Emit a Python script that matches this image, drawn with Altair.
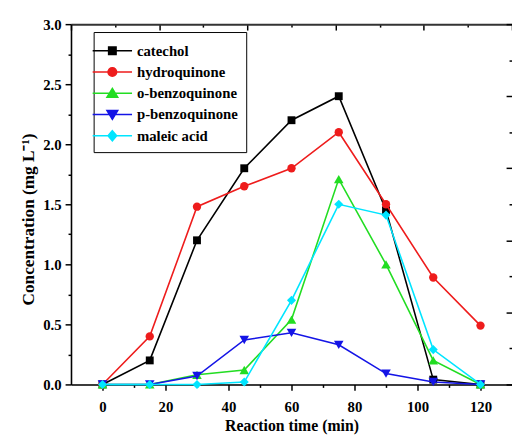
import altair as alt
import pandas as pd

# ---- data ----
time_min = [0, 15, 30, 45, 60, 75, 90, 105, 120]
catechol = [0.0, 0.20, 1.20, 1.80, 2.20, 2.40, 1.45, 0.04, 0.0]
hydroquinone = [0.0, 0.40, 1.48, 1.65, 1.80, 2.10, 1.50, 0.89, 0.49]
o_benzoquinone = [0.0, 0.0, 0.08, 0.12, 0.54, 1.71, 1.00, 0.20, 0.0]
p_benzoquinone = [0.0, 0.0, 0.07, 0.37, 0.43, 0.33, 0.09, 0.02, 0.0]
maleic_acid = [0.0, 0.0, 0.0, 0.02, 0.70, 1.50, 1.41, 0.29, 0.0]

series_names = ["catechol", "hydroquinone", "o-benzoquinone", "p-benzoquinone", "maleic acid"]
series_values = [catechol, hydroquinone, o_benzoquinone, p_benzoquinone, maleic_acid]
x_ticks = list(range(0, 121, 10))
y_ticks = [i * 0.25 for i in range(13)]
frame_ticks = list(range(11))

# ---- styles ----
colors = ["#000000", "#ee1c1c", "#22dd22", "#1414e6", "#00e5ff"]
shapes = ["square", "circle", "triangle-up", "triangle-down", "diamond"]
sizes = [64, 72, 95, 95, 85]
# legend glyphs: a line through the marker (symbol units, size 400 -> 10 px per unit)
legend_paths = [
    "M-2,0H2M-0.38,-0.38H0.38V0.38H-0.38Z",
    "M-2,0H2M0.44,0A0.44,0.44,0,1,1,-0.44,0A0.44,0.44,0,1,1,0.44,0Z",
    "M-2,0H2M0,-0.5L0.55,0.42L-0.55,0.42Z",
    "M-2,0H2M0,0.5L0.55,-0.42L-0.55,-0.42Z",
    "M-2,0H2M0,-0.52L0.44,0L0,0.52L-0.44,0Z",
]
FONT = "Liberation Serif"

rows = []
for name, vals in zip(series_names, series_values):
    for t, v in zip(time_min, vals):
        rows.append({"time": t, "conc": v, "series": name})
df = pd.DataFrame(rows)

x_scale = alt.Scale(domain=[-10, 130], nice=False, zero=False)
y_scale = alt.Scale(domain=[0, 3], nice=False, zero=False)

x_axis = alt.Axis(
    values=x_ticks,
    labelExpr="datum.value % 20 === 0 ? datum.label : ''",
    tickSize={"condition": {"test": "datum.value % 20 === 0", "value": 6}, "value": 3},
    title="Reaction time (min)",
    titleFont=FONT, titleFontSize=16, titleFontWeight="bold", titleColor="black",
    titleY=47, titleBaseline="alphabetic",
    labelFont=FONT, labelFontSize=15, labelFontWeight="bold", labelColor="black",
    labelPadding=10, labelFlush=False,
    domainColor="black", domainWidth=1.6, tickColor="black", tickWidth=1.5,
    grid=False,
)
y_axis = alt.Axis(
    values=y_ticks,
    labelExpr="(datum.value * 2) % 1 === 0 ? format(datum.value, '.1f') : ''",
    tickSize={"condition": {"test": "(datum.value * 2) % 1 === 0", "value": 6}, "value": 3},
    title="Concentration (mg L\u207b\u00b9)",
    titleFont=FONT, titleFontSize=17.5, titleFontWeight="bold", titleColor="black",
    titleX=-43, titleY=198, titleBaseline="middle", titleAngle=-90,
    labelFont=FONT, labelFontSize=15, labelFontWeight="bold", labelColor="black",
    labelPadding=4, labelFlush=False,
    domainColor="black", domainWidth=1.6, tickColor="black", tickWidth=1.5,
    grid=False,
)

layers = []
for i, name in enumerate(series_names):
    base = alt.Chart(df).transform_filter(alt.datum.series == name)
    line = base.mark_line(color=colors[i], strokeWidth=1.6).encode(
        x=alt.X("time:Q", scale=x_scale, axis=x_axis),
        y=alt.Y("conc:Q", scale=y_scale, axis=y_axis),
    )
    pts = base.mark_point(
        color=colors[i], filled=True, opacity=1, shape=shapes[i], size=sizes[i]
    ).encode(
        x=alt.X("time:Q", scale=x_scale, axis=x_axis),
        y=alt.Y("conc:Q", scale=y_scale, axis=y_axis),
    )
    layers += [line, pts]

leg = alt.Legend(
    title=None, orient="none", legendX=23, legendY=8,
    strokeColor="black", fillColor="white", padding=8,
    labelFont=FONT, labelFontSize=15, labelFontWeight="bold", labelColor="black",
    symbolSize=400, symbolStrokeWidth=1.5, labelOffset=14, rowPadding=2.6,
)
color_scale = alt.Scale(domain=series_names, range=colors)
legend_layer = alt.Chart(df).transform_filter("false").mark_point(
    filled=True, size=400, strokeWidth=1.5, opacity=1
).encode(
    x=alt.X("time:Q", scale=x_scale, axis=x_axis),
    y=alt.Y("conc:Q", scale=y_scale, axis=y_axis),
    color=alt.Color("series:N", scale=color_scale, legend=leg),
    stroke=alt.Stroke("series:N", scale=color_scale, legend=leg),
    shape=alt.Shape("series:N", scale=alt.Scale(domain=series_names, range=legend_paths), legend=leg),
)
layers.append(legend_layer)

main = alt.layer(*layers)

frame_cond = {"condition": {"test": "datum.value % 2 === 0", "value": -6}, "value": -3}
frame = alt.Chart(df).mark_point(opacity=0, clip=True).encode(
    x=alt.X("time:Q", scale=alt.Scale(domain=[0, 10], nice=False),
            axis=alt.Axis(orient="top", values=frame_ticks, labels=False, title=None,
                          domain=True, domainColor="#333333", domainWidth=2,
                          tickSize=frame_cond, tickColor="black", tickWidth=1.5, grid=False)),
    y=alt.Y("conc:Q", scale=alt.Scale(domain=[0, 10], nice=False),
            axis=alt.Axis(orient="right", values=frame_ticks, labels=False, title=None,
                          domain=False, tickSize=frame_cond, tickColor="black",
                          tickWidth=1.5, grid=False)),
)

chart = alt.layer(main, frame).resolve_scale(x="independent", y="independent").properties(
    width=448, height=366,
    padding={"left": 64, "top": 13, "right": 0, "bottom": 50},
    autosize=alt.AutoSizeParams(type="none"),
).configure_view(stroke=None).configure(background="white")

chart.save("out.html", embed_options={"renderer": "svg", "actions": False})
